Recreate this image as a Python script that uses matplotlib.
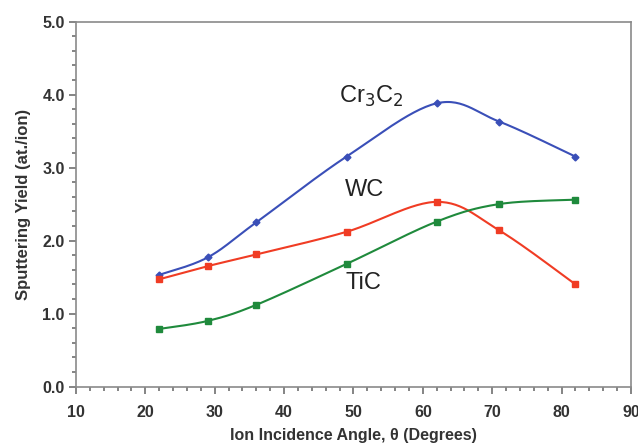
import numpy as np
import matplotlib.pyplot as plt
from matplotlib.ticker import MultipleLocator

plt.rcParams['font.family'] = ['Liberation Sans', 'DejaVu Sans']

angle = [22, 29, 36, 49, 62, 71, 82]
cr3c2 = [1.53, 1.77, 2.25, 3.15, 3.88, 3.63, 3.15]
wc = [1.47, 1.65, 1.81, 2.12, 2.53, 2.14, 1.40]
tic = [0.79, 0.90, 1.12, 1.68, 2.26, 2.50, 2.56]


def smooth(x, y, n=30):
    # Excel-style smoothed line: cubic Bezier segments, tangents from neighbours
    x = np.asarray(x, float)
    y = np.asarray(y, float)
    px = np.concatenate([[x[0]], x, [x[-1]]])
    py = np.concatenate([[y[0]], y, [y[-1]]])
    t = np.linspace(0, 1, n)
    xs, ys = [], []
    for i in range(1, len(px) - 2):
        p0 = np.array([px[i], py[i]])
        p3 = np.array([px[i + 1], py[i + 1]])
        p1 = p0 + (np.array([px[i + 1], py[i + 1]]) - np.array([px[i - 1], py[i - 1]])) / 6
        p2 = p3 - (np.array([px[i + 2], py[i + 2]]) - np.array([px[i], py[i]])) / 6
        b = ((1 - t) ** 3)[:, None] * p0 + (3 * (1 - t) ** 2 * t)[:, None] * p1 \
            + (3 * (1 - t) * t ** 2)[:, None] * p2 + (t ** 3)[:, None] * p3
        xs.extend(b[:, 0])
        ys.extend(b[:, 1])
    return xs, ys


fig = plt.figure(figsize=(6.38, 4.48), dpi=100)
ax = fig.add_axes([0.119, 0.137, 0.870, 0.815])

series = [
    (cr3c2, '#3a4fb8', 'D', 3.5),
    (wc, '#f03c24', 's', 5),
    (tic, '#1f8a3c', 's', 5),
]
for vals, col, mk, ms in series:
    sx, sy = smooth(angle, vals)
    ax.plot(sx, sy, color=col, lw=1.5)
    ax.plot(angle, vals, ls='none', marker=mk, ms=ms, color=col)

ax.text(47.9, 3.98, 'Cr$_3$C$_2$', fontsize=17, va='center', ha='left', color='#222222')
ax.text(48.8, 2.69, 'WC', fontsize=17, va='center', ha='left', color='#222222')
ax.text(48.9, 1.42, 'TiC', fontsize=17, va='center', ha='left', color='#222222')

ax.set_xlim(10, 90)
ax.set_ylim(0, 5)
ax.xaxis.set_major_locator(MultipleLocator(10))
ax.xaxis.set_minor_locator(MultipleLocator(2))
ax.yaxis.set_major_locator(MultipleLocator(1))
ax.yaxis.set_minor_locator(MultipleLocator(0.2))
ax.yaxis.set_major_formatter(plt.FormatStrFormatter('%.1f'))

for s in ax.spines.values():
    s.set_color('#8a8a8a')
    s.set_linewidth(1.2)
ax.tick_params(which='both', direction='out', color='#707070', width=1.2)
ax.tick_params(which='major', length=5, labelsize=11.5, labelcolor='#333333')
ax.tick_params(axis='x', which='major', pad=8)
ax.tick_params(axis='y', which='major', pad=3)
ax.tick_params(which='minor', length=3)
for lab in ax.get_xticklabels() + ax.get_yticklabels():
    lab.set_fontweight('bold')

ax.set_xlabel('Ion Incidence Angle, θ (Degrees)', fontsize=11.5, fontweight='bold', color='#333333', labelpad=6)
ax.set_ylabel('Sputtering Yield (at./ion)', fontsize=12, fontweight='bold', color='#333333', labelpad=8)

fig.savefig('out.png', dpi=100)
